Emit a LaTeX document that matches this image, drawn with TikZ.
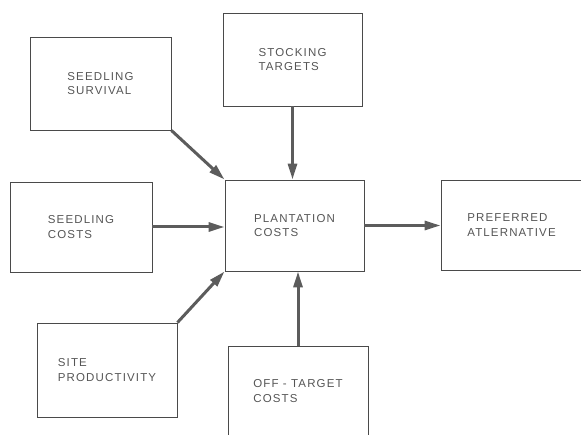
\documentclass[tikz,border=0pt]{standalone}
\usepackage{fontspec}
\setmainfont{Liberation Sans}[LetterSpace=10]
\usetikzlibrary{arrows.meta}
\definecolor{ink}{HTML}{4A4A4A}
\definecolor{txt}{HTML}{555555}
\tikzset{
  box/.style={draw=ink, line width=0.95pt, align=left, text=txt,
    font=\fontsize{11.5}{14.5}\selectfont, inner sep=0pt},
  flow/.style={draw=ink!90, line width=3pt,
    -{Triangle[length=16pt,width=9pt]}}
}
\begin{document}
\begin{tikzpicture}[x=1pt,y=-1pt]
\useasboundingbox (0,0) rectangle (581,435);
\node[box, minimum width=141pt, minimum height=93pt] (surv) at (100.5,83.5) {SEEDLING\\SURVIVAL};
\node[box, minimum width=139pt, minimum height=93pt] (stock) at (292.5,59.5) {STOCKING\\TARGETS};
\node[box, minimum width=139pt, minimum height=91pt] (plant) at (294.5,225.5) {PLANTATION\\COSTS};
\node[box, minimum width=141pt, minimum height=90pt] (pref) at (511.5,225) {PREFERRED\\ATLERNATIVE};
\node[box, minimum width=142pt, minimum height=90pt] (scost) at (81,227) {SEEDLING\\COSTS};
\node[box, minimum width=140pt, minimum height=94pt] (site) at (107,370) {SITE\\PRODUCTIVITY};
\node[box, minimum width=140pt, minimum height=90pt] (off) at (298,391) {OFF - TARGET\\COSTS};
\draw[flow] (surv.south east) -- (plant.north west);
\draw[flow] (stock.south) -- (stock.south |- plant.north);
\draw[flow] (scost.east) -- (scost.east -| plant.west);
\draw[flow] (plant.east) -- (plant.east -| pref.west);
\draw[flow] (site.north east) -- (plant.south west);
\draw[flow] (off.north) -- (off.north |- plant.south);
\end{tikzpicture}
\end{document}
